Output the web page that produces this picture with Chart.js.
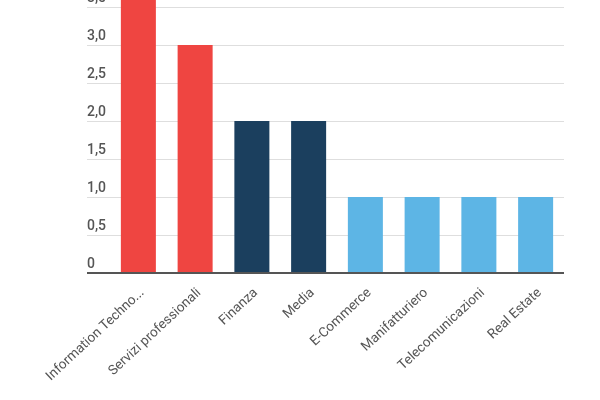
<!DOCTYPE html>
<html>
<head>
<meta charset="utf-8">
<script src="https://cdn.jsdelivr.net/npm/chart.js@4/dist/chart.umd.min.js"></script>
<style>
  html, body { margin: 0; padding: 0; background: #fff; overflow: hidden; }
  #wrap { position: absolute; left: 0; top: -31px; width: 600px; height: 431px; }
</style>
</head>
<body>
<div id="wrap"><canvas id="barChart"></canvas></div>
<script>
const categories = [
  "Information Techno...",
  "Servizi professionali",
  "Finanza",
  "Media",
  "E-Commerce",
  "Manifatturiero",
  "Telecomunicazioni",
  "Real Estate"
];
const values = [4, 3, 2, 2, 1, 1, 1, 1];
const barColors = ["#ef4541", "#ef4541", "#1b3f5e", "#1b3f5e", "#5db5e5", "#5db5e5", "#5db5e5", "#5db5e5"];
const yTicks = [0, 0.5, 1, 1.5, 2, 2.5, 3, 3.5, 4];

function itTick(value) {
  return value === 0 ? "0" : value.toFixed(1).replace(".", ",");
}

const ctx = document.getElementById("barChart");

new Chart(ctx, {
  type: "bar",
  data: {
    labels: categories,
    datasets: [{
      data: values,
      backgroundColor: barColors,
      categoryPercentage: 1,
      barPercentage: 0.617
    }]
  },
  options: {
    responsive: true,
    maintainAspectRatio: false,
    animation: false,
    layout: { padding: { left: 87, right: 36, top: 0, bottom: 0 } },
    plugins: {
      legend: { display: false },
      tooltip: { enabled: false }
    },
    scales: {
      x: {
        grid: { display: false },
        border: { display: false },
        ticks: {
          color: "#555",
          font: { family: "Roboto", size: 13.5 },
          minRotation: 43,
          maxRotation: 43,
          autoSkip: false,
          labelOffset: 4,
          padding: 4
        },
        afterFit(scale) {
          scale.height = 127;
          scale.paddingLeft = 0;
          scale.paddingRight = 0;
        }
      },
      y: {
        min: 0,
        max: 4,
        afterBuildTicks(scale) {
          scale.ticks = yTicks.map(v => ({ value: v }));
        },
        afterFit(scale) {
          scale.width = 23;
          scale.paddingTop = 0;
          scale.paddingBottom = 0;
        },
        border: { display: false },
        grid: {
          color: c => c.tick && c.tick.value === 0 ? "#555" : "#dedede",
          tickColor: c => c.tick && c.tick.value === 0 ? "#555" : "#dedede",
          lineWidth: c => c.tick && c.tick.value === 0 ? 2 : 1,
          tickLength: 23
        },
        ticks: {
          callback: itTick,
          color: "#555",
          font: { family: "Roboto", size: 14, weight: "500" },
          crossAlign: "far",
          labelOffset: -9,
          padding: 0
        }
      }
    }
  }
});
</script>
</body>
</html>
